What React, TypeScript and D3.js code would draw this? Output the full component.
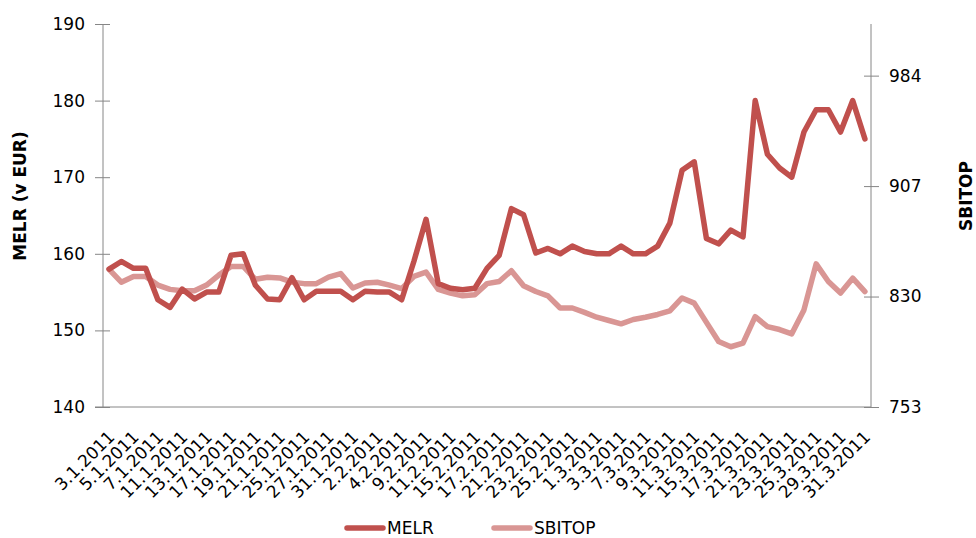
import { useRef, useEffect } from "react";
import * as d3 from "d3";

const dates = [
    "3.1.2011", "4.1.2011", "5.1.2011", "6.1.2011", "7.1.2011", "10.1.2011", "11.1.2011", "12.1.2011",
    "13.1.2011", "14.1.2011", "17.1.2011", "18.1.2011", "19.1.2011", "20.1.2011", "21.1.2011", "24.1.2011",
    "25.1.2011", "26.1.2011", "27.1.2011", "28.1.2011", "31.1.2011", "1.2.2011", "2.2.2011", "3.2.2011",
    "4.2.2011", "7.2.2011", "9.2.2011", "10.2.2011", "11.2.2011", "14.2.2011", "15.2.2011", "16.2.2011",
    "17.2.2011", "18.2.2011", "21.2.2011", "22.2.2011", "23.2.2011", "24.2.2011", "25.2.2011", "28.2.2011",
    "1.3.2011", "2.3.2011", "3.3.2011", "4.3.2011", "7.3.2011", "8.3.2011", "9.3.2011", "10.3.2011",
    "11.3.2011", "14.3.2011", "15.3.2011", "16.3.2011", "17.3.2011", "18.3.2011", "21.3.2011", "22.3.2011",
    "23.3.2011", "24.3.2011", "25.3.2011", "28.3.2011", "29.3.2011", "30.3.2011", "31.3.2011",
];

const melr = [
    158, 159, 158.1, 158.1, 154, 153, 155.4, 154.1, 155, 155, 159.8, 160, 155.9, 154.1, 154, 156.9,
    154, 155.1, 155.1, 155.1, 154, 155.1, 155, 155, 154, 159, 164.5, 156.1, 155.5, 155.3, 155.5, 158.1,
    159.8, 165.9, 165.1, 160.1, 160.7, 160, 161, 160.3, 160, 160, 161, 160, 160, 161, 164, 170.9,
    172, 162, 161.3, 163.1, 162.2, 180, 173, 171.2, 170, 175.9, 178.8, 178.8, 175.9, 180, 175,
];

const sbitop = [
    849, 840, 844, 844, 838, 835, 834, 834, 838, 845, 851, 851, 842, 843.5, 843, 840,
    839, 839, 843.5, 846, 836, 839.4, 840, 838, 835.5, 844, 847, 835, 832.4, 830.5, 831.2, 839,
    840.5, 848, 837.5, 833.5, 830.5, 822, 822, 819, 815.6, 813.3, 811, 814, 815.6, 817.5, 820, 829,
    825.4, 812, 798.6, 795, 797.5, 816, 809, 807, 804, 820.7, 852.8, 840.5, 832.4, 842.8, 833.5,
];

const leftTicks = [140, 150, 160, 170, 180, 190];
const rightTicks = [753, 830, 907, 984];

export default function App() {
    const ref = useRef<SVGSVGElement>(null);

    useEffect(() => {
        if (!ref.current) return;
        const width = 976;
        const height = 538;
        const left = 103;
        const right = 871;
        const top = 24;
        const bottom = 407;
        const font = "DejaVu Sans, Verdana, sans-serif";
        const fs = 17;
        const axisColor = "#868686";
        const melrColor = "#C0504D";
        const sbitopColor = "#D99694";

        const x = d3.scalePoint<string>().domain(dates).range([left, right]).padding(0.5);
        const y = d3.scaleLinear().domain([140, 190]).range([bottom, top]);
        const y2 = d3.scaleLinear().domain([753, 1020]).range([bottom, top]);

        const svg = d3.select(ref.current);
        svg.selectAll("*").remove();
        svg.attr("width", width).attr("height", height);

        // left axis
        const gl = svg.append("g")
            .attr("transform", `translate(${left},0)`)
            .call(d3.axisLeft(y).tickValues(leftTicks).tickSize(8).tickPadding(10));
        gl.selectAll(".tick line").attr("x2", -8).attr("x1", 7);

        // right axis
        const gr = svg.append("g")
            .attr("transform", `translate(${right},0)`)
            .call(d3.axisRight(y2).tickValues(rightTicks).tickSize(8).tickPadding(10));
        gr.selectAll(".tick line").attr("x1", -7).attr("x2", 8);

        for (const g of [gl, gr]) {
            g.select(".domain").attr("stroke", axisColor).attr("d", `M0,${top}V${bottom}`);
            g.selectAll(".tick line").attr("stroke", axisColor);
            g.selectAll("text").attr("font-family", font).attr("font-size", fs).attr("fill", "#000");
        }

        // x axis
        const gx = svg.append("g")
            .attr("transform", `translate(0,${bottom})`)
            .call(d3.axisBottom(x).tickValues(dates.filter((_, i) => i % 2 === 0)).tickSize(0));
        gx.select(".domain").attr("stroke", axisColor).attr("d", `M${left - 8},0H${right}`);
        gx.selectAll("text")
            .attr("font-family", font)
            .attr("font-size", fs)
            .attr("fill", "#000")
            .attr("text-anchor", "end")
            .attr("dy", null)
            .attr("y", 0)
            .attr("transform", "translate(6,31) rotate(-45)");

        // lines
        const lineL = d3.line<number>().x((_, i) => x(dates[i])!).y((d) => y(d));
        const lineR = d3.line<number>().x((_, i) => x(dates[i])!).y((d) => y2(d));

        svg.append("path")
            .datum(sbitop)
            .attr("fill", "none")
            .attr("stroke", sbitopColor)
            .attr("stroke-width", 5.5)
            .attr("stroke-linejoin", "round")
            .attr("stroke-linecap", "round")
            .attr("d", lineR);

        svg.append("path")
            .datum(melr)
            .attr("fill", "none")
            .attr("stroke", melrColor)
            .attr("stroke-width", 5.5)
            .attr("stroke-linejoin", "round")
            .attr("stroke-linecap", "round")
            .attr("d", lineL);

        // axis titles
        svg.append("text")
            .attr("transform", "translate(26,196) rotate(-90)")
            .attr("text-anchor", "middle")
            .attr("font-family", font)
            .attr("font-size", fs)
            .attr("font-weight", "bold")
            .text("MELR (v EUR)");

        svg.append("text")
            .attr("transform", "translate(972,196) rotate(-90)")
            .attr("text-anchor", "middle")
            .attr("font-family", font)
            .attr("font-size", fs)
            .attr("font-weight", "bold")
            .text("SBITOP");

        // legend
        const legend = [
            { name: "MELR", color: melrColor, x: 347 },
            { name: "SBITOP", color: sbitopColor, x: 494 },
        ];
        const lg = svg.append("g");
        legend.forEach((d) => {
            lg.append("line")
                .attr("x1", d.x).attr("x2", d.x + 36)
                .attr("y1", 528).attr("y2", 528)
                .attr("stroke", d.color)
                .attr("stroke-width", 5.5)
                .attr("stroke-linecap", "round");
            lg.append("text")
                .attr("x", d.x + 40)
                .attr("y", 534)
                .attr("font-family", font)
                .attr("font-size", fs)
                .text(d.name);
        });
    });

    return (
        <div>
            <svg ref={ref} style={{ position: "absolute", left: 0, top: 0 }}></svg>
        </div>
    );
}
